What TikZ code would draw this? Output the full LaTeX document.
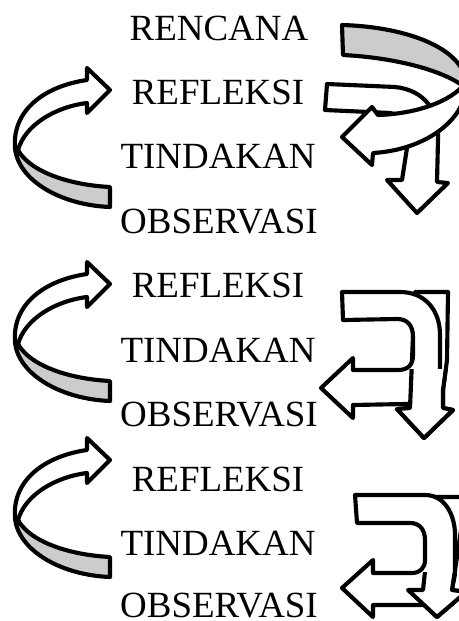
\documentclass[tikz,border=0pt]{standalone}
\usepackage{fontspec}
\setmainfont{Liberation Serif}
\begin{document}
\begin{tikzpicture}[x=0.75pt,y=-0.75pt,
  arr/.style={draw=black, line width=3.1pt, line join=round, fill=white},
  greyarr/.style={arr, fill=gray!40},
  lbl/.style={anchor=base, inner sep=0pt, font=\fontsize{27.7}{30}\selectfont}]
\useasboundingbox (0,0) rectangle (459,621);
\clip (0,0) rectangle (459,621);

% labels
\node[lbl] (t1) at (219,40) {RENCANA};
\node[lbl] (t2) at (218,104) {REFLEKSI};
\node[lbl] (t3) at (218,168) {TINDAKAN};
\node[lbl] (t4) at (219,233) {OBSERVASI};
\node[lbl] (t5) at (218,297) {REFLEKSI};
\node[lbl] (t6) at (218,362) {TINDAKAN};
\node[lbl] (t7) at (219,426) {OBSERVASI};
\node[lbl] (t8) at (218,491) {REFLEKSI};
\node[lbl] (t9) at (218,555) {TINDAKAN};
\node[lbl] (t10) at (219,617) {OBSERVASI};

% left curved arrows
\foreach \dy in {0,194,370}{
\begin{scope}[shift={(0,\dy)}]
  \path[greyarr] (15,148) .. controls (18,180) and (60,205) .. (110,207)
     -- (110,187) .. controls (70,185) and (30,172) .. (18,150) -- cycle;
  \path[arr] (15,148) .. controls (12,110) and (45,86) .. (87,80)
     -- (87,68) -- (110,90) -- (87,113) -- (87,103)
     .. controls (55,107) and (25,125) .. (18,150) -- cycle;
\end{scope}
}

% top right: arrow going right then down
\path[arr] (327,84) -- (395,87) .. controls (425,90) and (440,112) .. (438,140)
   -- (437,182) -- (448,183) -- (417,213) -- (387,180) -- (402,180)
   -- (407,148) .. controls (408,128) and (402,114) .. (390,113) -- (325,110) -- cycle;
% top right: twisted U band
\path[greyarr] (342,25) .. controls (410,27) and (466,50) .. (466,85)
   -- (463,86) .. controls (445,72) and (400,58) .. (343,55) -- cycle;
\path[arr] (466,85) .. controls (466,120) and (425,150) .. (373,153)
   -- (372,165) -- (342,137) -- (372,107) -- (378,115)
   .. controls (410,114) and (445,105) .. (463,86) -- cycle;

% middle right
\def\downA{(415,292) -- (448,292) -- (447,360) -- (443,390) -- (443,408) -- (453,410)
   -- (424,438) -- (397,409) -- (410,408) -- (412,360) -- cycle}
\path[arr] \downA;
\path[arr] (342,292) -- (400,292) .. controls (425,292) and (440,310) .. (440,335)
   -- (440,365) .. controls (440,390) and (425,404) .. (405,404) -- (353,405)
   -- (353,418) -- (321,388) -- (353,358) -- (353,370) -- (398,370)
   .. controls (408,370) and (413,365) .. (413,355) -- (413,337)
   .. controls (413,325) and (407,319) .. (397,319) -- (343,320) -- cycle;
\begin{scope}
  \clip (380,369) rectangle (470,450);
  \path[arr] \downA;
\end{scope}

% bottom right
\def\downB{(433,497) -- (466,497) -- (452,590) -- (466,592) -- (437,617)
   -- (408,590) -- (423,590) -- cycle}
\path[arr] \downB;
\path[arr] (355,495) -- (425,495) .. controls (445,495) and (455,515) .. (455,535)
   -- (455,570) .. controls (455,592) and (440,605) .. (420,605) -- (373,605)
   -- (373,617) -- (342,588) -- (373,560) -- (373,573) -- (412,573)
   .. controls (420,573) and (425,568) .. (425,560) -- (425,540)
   .. controls (425,530) and (420,523) .. (410,523) -- (357,523) -- cycle;
\begin{scope}
  \clip (380,572) rectangle (470,630);
  \path[arr] \downB;
\end{scope}
\end{tikzpicture}
\end{document}
